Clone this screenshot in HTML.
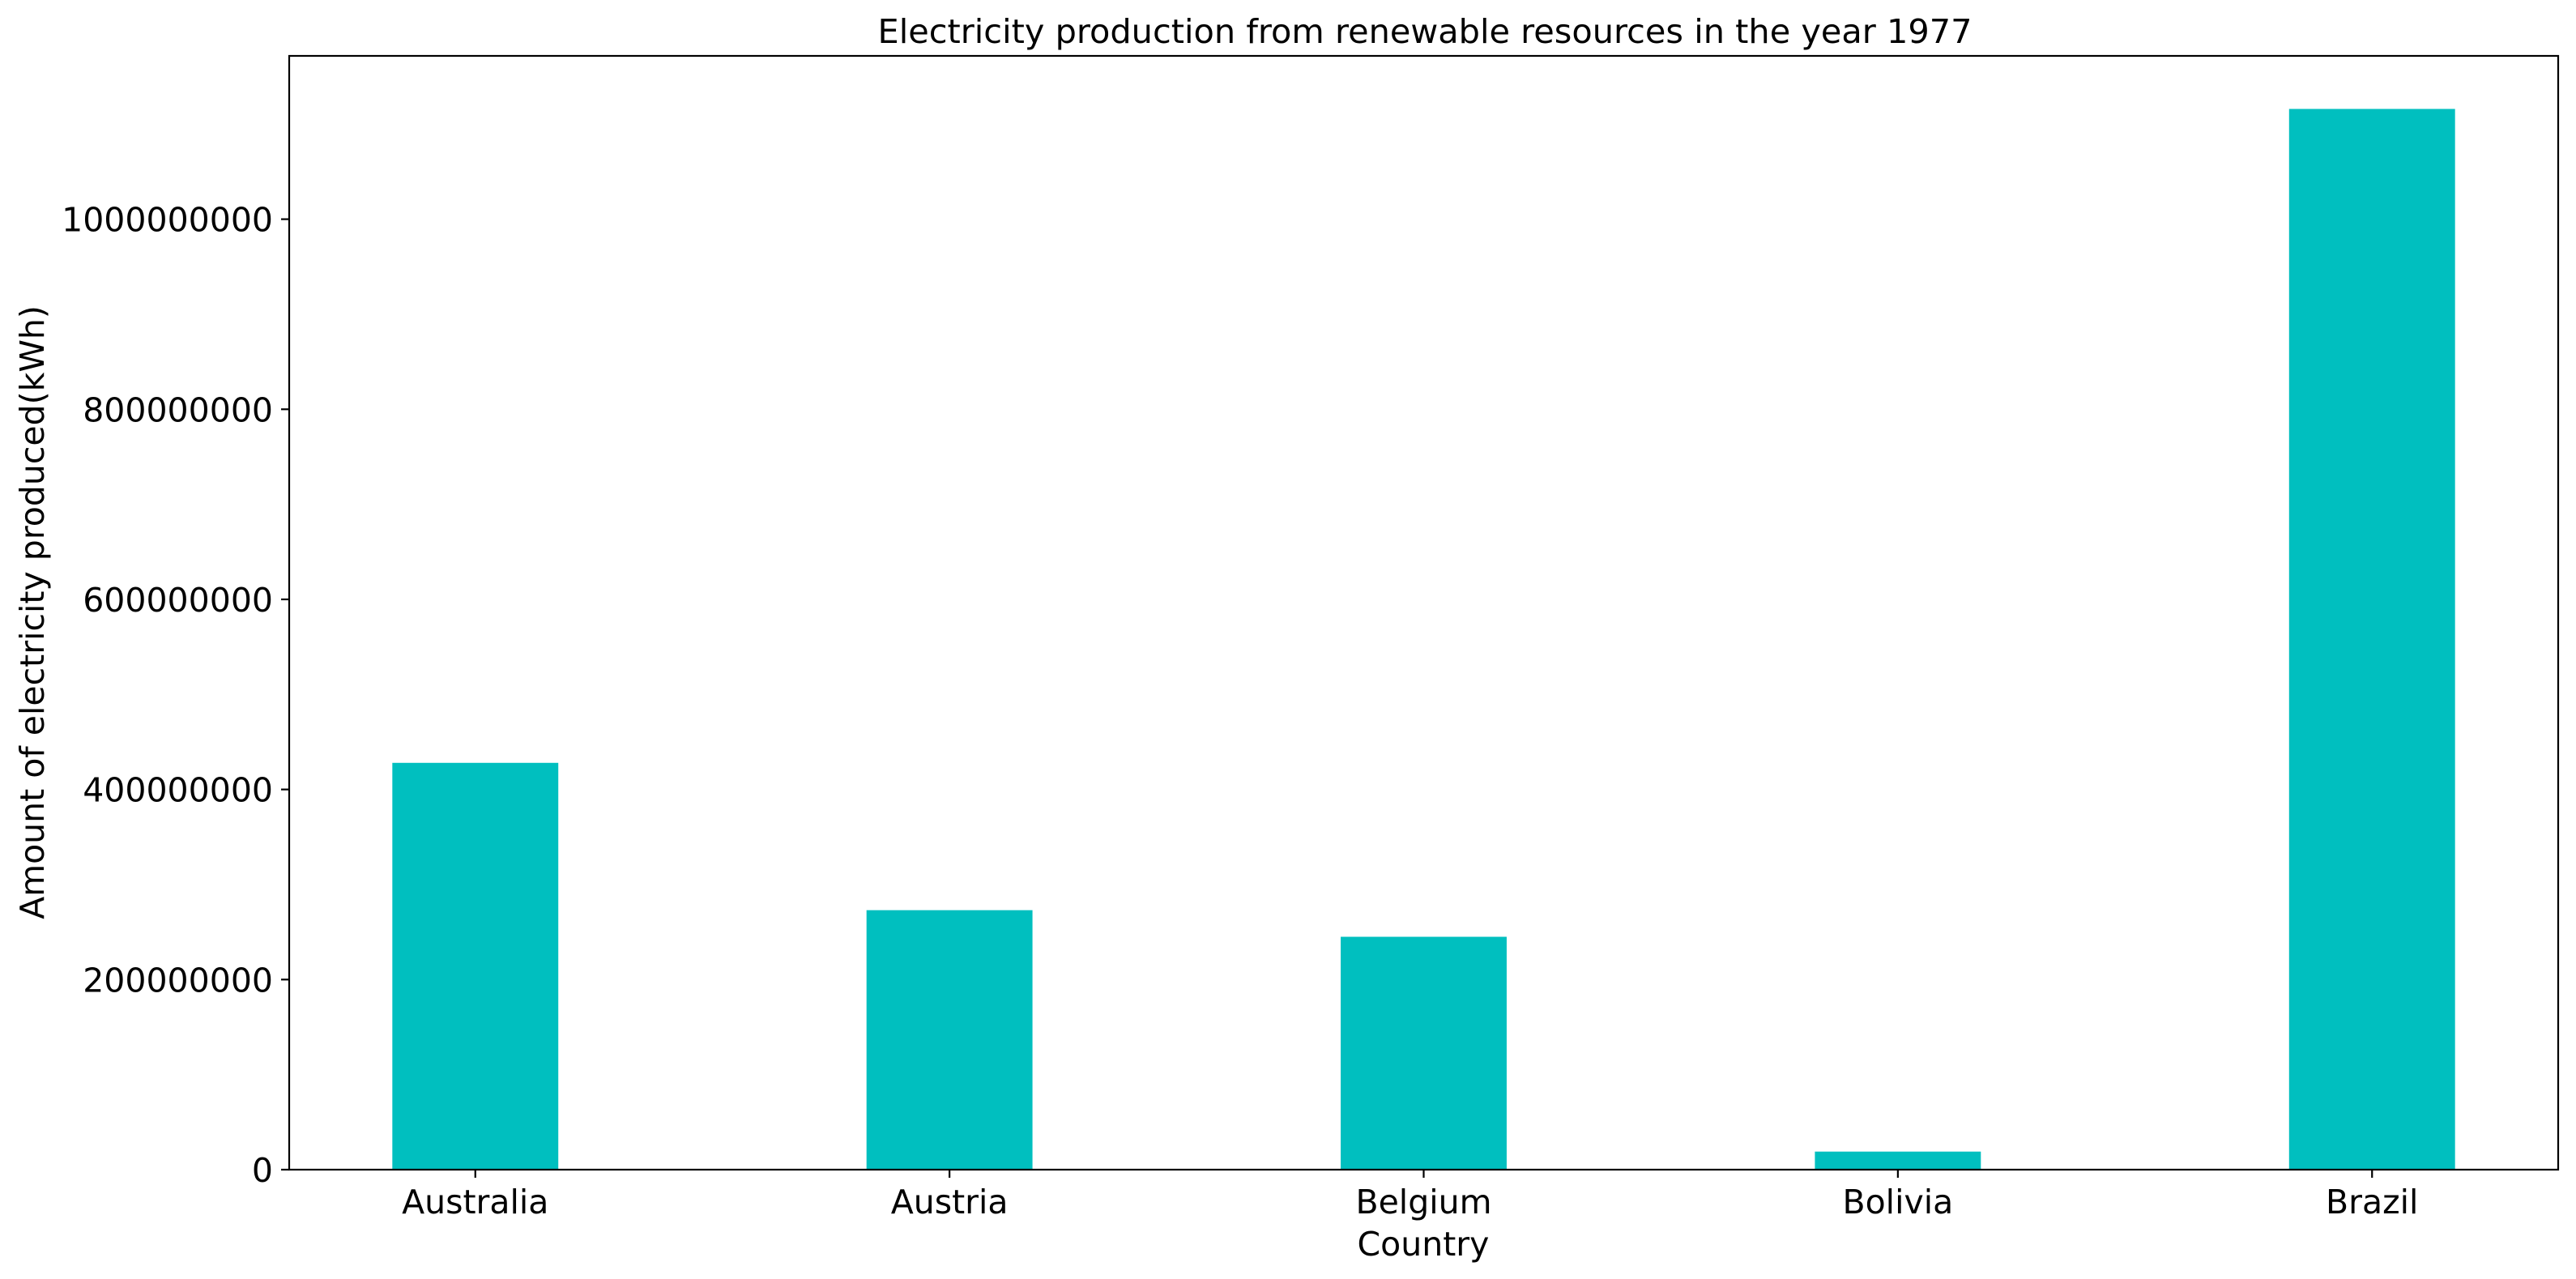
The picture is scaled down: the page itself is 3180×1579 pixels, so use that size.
<!DOCTYPE html>
<html><head><meta charset="utf-8"><style>
html,body{margin:0;padding:0;background:#fff;}
svg{display:block;font-family:"DejaVu Sans","Liberation Sans",sans-serif;}
</style></head><body>
<svg id="chart" width="3180" height="1579" viewBox="0 0 3180 1579" xmlns="http://www.w3.org/2000/svg">
<rect width="3180" height="1579" fill="#fff"/>
<g id="bars"></g>
<g id="axes"></g>
<text x="1759" y="53" font-size="41" text-anchor="middle" textLength="1351" lengthAdjust="spacingAndGlyphs">Electricity production from renewable resources in the year 1977</text>
<text x="1757" y="1550" font-size="41" text-anchor="middle">Country</text>
<text transform="translate(54,756) rotate(-90)" font-size="41" text-anchor="middle">Amount of electricity produced(kWh)</text>
</svg>
<script>
const categories = ["Australia","Austria","Belgium","Bolivia","Brazil"];
const values = [428000000, 273000000, 245000000, 19000000, 1116000000];
const yTicks = [0, 200000000, 400000000, 600000000, 800000000, 1000000000];
const yTickLabels = ["0","200000000","400000000","600000000","800000000","1000000000"];

const L=357,R=3158,T=69,B=1444;
const barW=0.35;
const xmin=-barW/2-0.05*(categories.length-1+barW), xmax=categories.length-1+barW/2+0.05*(categories.length-1+barW);
const ymax=Math.max(...values)*1.05;
const xs=v=>L+(v-xmin)/(xmax-xmin)*(R-L);
const ys=v=>B-v/ymax*(B-T);
const NS="http://www.w3.org/2000/svg";
const bars=document.getElementById('bars'), axes=document.getElementById('axes');
function mk(tag,attrs,parent){const e=document.createElementNS(NS,tag);for(const k in attrs)e.setAttribute(k,attrs[k]);parent.appendChild(e);return e;}
categories.forEach((c,i)=>{
  const r=mk('rect',{x:xs(i-barW/2),y:ys(values[i]),width:xs(i+barW/2)-xs(i-barW/2),height:B-ys(values[i]),fill:'#00bfbf'},bars);
  
  
  const t=mk('line',{x1:xs(i),x2:xs(i),y1:B,y2:B+10,stroke:'#000','stroke-width':2.2},axes);
  
  
  const lb=mk('text',{x:xs(i),y:1498,'font-size':41,'text-anchor':'middle'},axes);
  lb.textContent=c;
  
  
});
yTicks.forEach((v,i)=>{
  const t=mk('line',{x1:L-10,x2:L,y1:ys(v),y2:ys(v),stroke:'#000','stroke-width':2.2},axes);
  
  
  const lb=mk('text',{x:L-20,y:ys(v)+15,'font-size':41,'text-anchor':'end'},axes);
  lb.textContent=yTickLabels[i];
  
  
});
const frame=mk('rect',{x:L,y:T,width:R-L,height:B-T,fill:'none',stroke:'#000','stroke-width':2.2},axes);


</script>
</body></html>
